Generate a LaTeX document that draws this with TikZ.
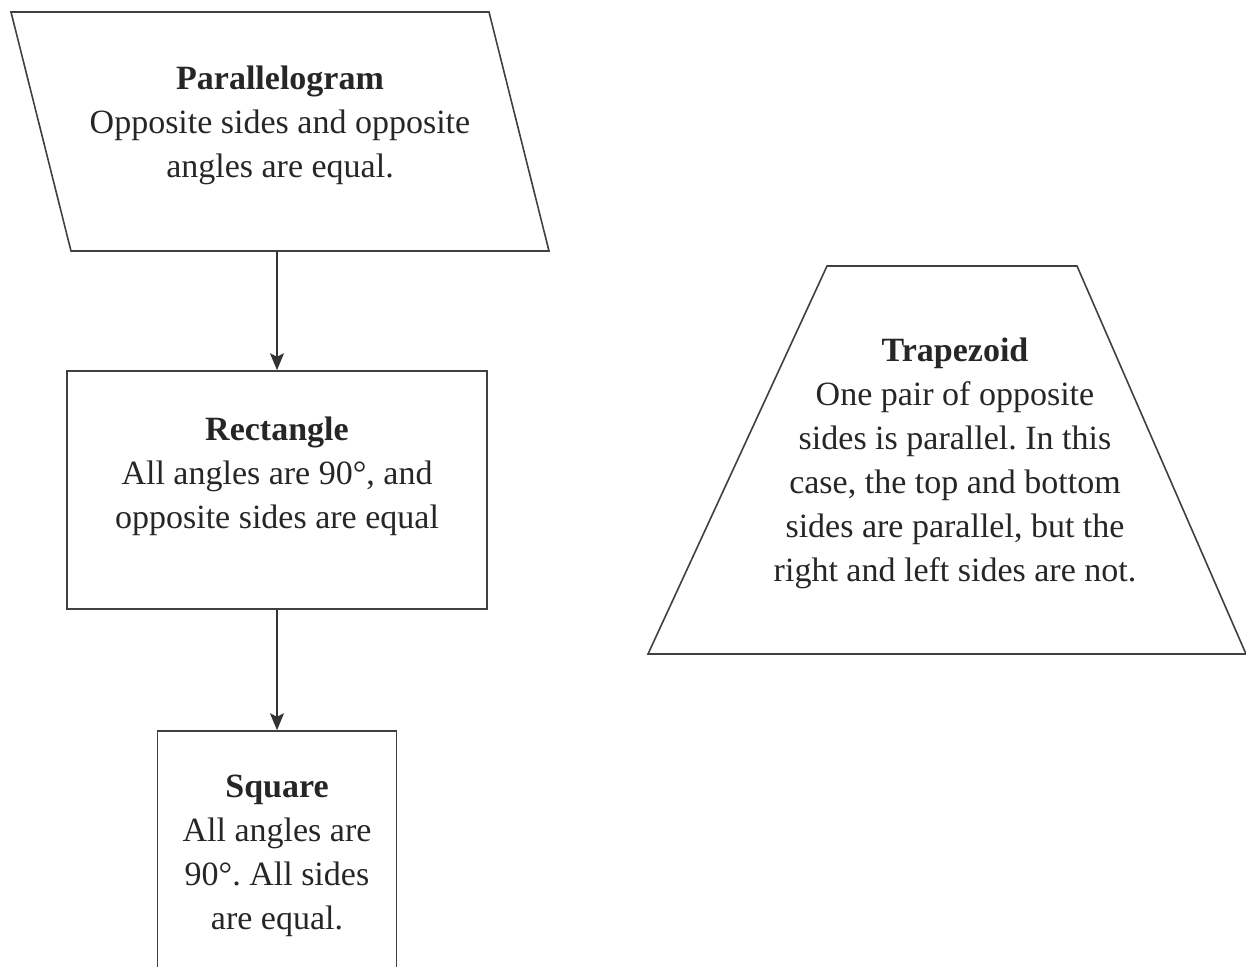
\documentclass[tikz,border=0pt]{standalone}
\usepackage{fontspec}
\setmainfont{Liberation Serif}
\usetikzlibrary{arrows.meta}
\frenchspacing

\begin{document}
\begin{tikzpicture}[x=0.5pt,y=-0.5pt]
        \useasboundingbox (0,0) rectangle (1246,966);
        \begin{scope}[black!75,line width=0.8pt]
            \draw (11,12) -- (489,12) -- (549,251) -- (71,251) -- cycle;
            \draw (827,266) -- (1077,266) -- (1246,654) -- (648,654) -- cycle;
        \end{scope}
        \coordinate (pb) at (277,251);
        \begin{scope}[every node/.style={draw=black!75,line width=0.8pt,inner sep=0pt}]
            \node (rect) [rectangle, minimum width=210pt, minimum height=119pt] at (277,490) {};
            \node (sq) [rectangle, minimum width=119.5pt, minimum height=120pt] at (277,851) {};
        \end{scope}
        \begin{scope}[every node/.style={align=center,text=black!85,font=\fontsize{17}{22}\selectfont}]
            \node (paratxt) at (280,125) {\textbf{Parallelogram}\\Opposite sides and opposite\\angles are equal.};
            \node (recttxt) at (277,476) {\textbf{Rectangle}\\All angles are 90°, and\\opposite sides are equal};
            \node (sqtxt) at (277,856) {\textbf{Square}\\All angles are\\90°. All sides\\are equal.};

            \node (traptxt) at (955,463) {\textbf{Trapezoid}\\One pair of opposite\\sides is parallel. In this\\case, the top and bottom\\sides are parallel, but the\\right and left sides are not.};
        \end{scope}
        \begin{scope}[every edge/.style={draw=black!80,line width=0.8pt,-{Stealth[length=8.5pt,width=7pt,inset=1.8pt]}}]
            \path (pb) edge (rect.north);
            \path (rect.south) edge (sq.north);
        \end{scope}
    \end{tikzpicture}
\end{document}
